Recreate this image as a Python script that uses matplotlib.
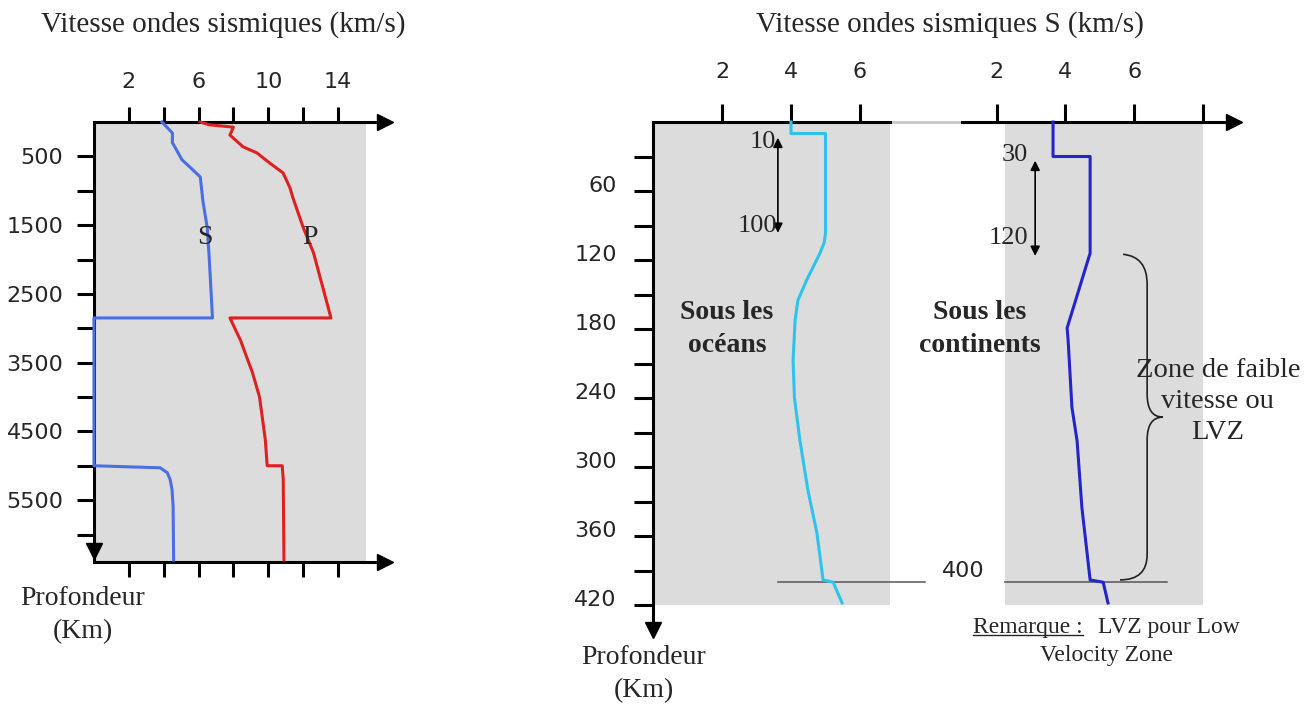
import matplotlib
matplotlib.use('Agg')
import matplotlib.pyplot as plt
import matplotlib.transforms as mtransforms
from matplotlib.patches import Rectangle, PathPatch
from matplotlib.path import Path
from matplotlib.lines import Line2D

# ---------------- data ----------------
# Left panel: whole Earth
earth_s_depth = [0, 160, 300, 550, 655, 800, 1150, 1540, 1920, 2850, 2850, 5000, 5030, 5100, 5200, 5350, 5590, 6371]
earth_s_vel   = [3.9, 4.5, 4.5, 5.05, 5.5, 6.1, 6.25, 6.5, 6.6, 6.8, 0.0, 0.0, 3.8, 4.2, 4.37, 4.48, 4.54, 4.57]
earth_p_depth = [0, 40, 75, 190, 360, 450, 600, 740, 960, 1090, 1530, 1905, 2850, 2850, 3170, 3650, 4000, 4620, 5000, 5000, 5200, 6371]
earth_p_vel   = [6.1, 6.6, 8.0, 7.8, 8.55, 9.35, 10.1, 10.85, 11.25, 11.4, 12.0, 12.6, 13.6, 7.8, 8.4, 9.1, 9.5, 9.83, 9.94, 10.8, 10.86, 10.9]
earth_xticks  = [2, 4, 6, 8, 10, 12, 14]
earth_xlabels = ['2', '', '6', '', '10', '', '14']
earth_yticks  = [500, 1000, 1500, 2000, 2500, 3000, 3500, 4000, 4500, 5000, 5500, 6000]
earth_ylabels = ['500', '', '1500', '', '2500', '', '3500', '', '4500', '', '5500', '']

# Right panel: upper mantle S-wave velocity
ocean_depth = [0, 10, 10, 97, 105, 114, 137, 155, 172, 207, 240, 277, 320, 357, 398, 400, 418]
ocean_vs    = [4.0, 4.0, 5.0, 5.0, 4.96, 4.84, 4.46, 4.2, 4.12, 4.06, 4.1, 4.26, 4.49, 4.75, 4.93, 5.22, 5.48]
cont_depth  = [0, 30, 30, 114, 179, 190, 248, 277, 335, 398, 400, 418]
cont_vs     = [3.64, 3.64, 4.72, 4.72, 4.05, 4.08, 4.19, 4.34, 4.48, 4.72, 5.1, 5.24]
upper_xticks_ocean  = [2, 4, 6]
upper_xlabels_ocean = ['2', '4', '6']
upper_xticks_cont   = [2, 4, 6, 8]
upper_xlabels_cont  = ['2', '4', '6', '']
upper_yticks  = list(range(30, 421, 30))
upper_ylabels = [str(v) if v % 60 == 0 else '' for v in upper_yticks]
ocean_lith = (10, 100)
cont_lith  = (30, 120)
lvz = (115, 398)
disc_400 = 400

# ---------------- styling ----------------
W, H = 1315, 707
fig = plt.figure(figsize=(W / 100, H / 100), dpi=100)
GRAY = '#DCDCDC'
TXT = '#262626'
SERIF = ['Liberation Serif', 'DejaVu Serif']
SANS = ['DejaVu Sans']
BLUE, RED, CYAN, DBLUE = '#4a6fe3', '#e02020', '#2ec3ee', '#2424c8'
LW = 2.2


def rect(x0, y0, x1, y1):
    return [x0 / W, 1 - y1 / H, (x1 - x0) / W, (y1 - y0) / H]


def fpos(px, py):
    return px / W, 1 - py / H


def style_axes(ax, spines, xt, xl, yt=None, yl=None, xlen=11, xpad=14, ylen=12, ypad=10, bottom=False):
    ax.set_facecolor('none')
    for name, sp in ax.spines.items():
        sp.set_visible(name in spines)
        sp.set_linewidth(LW)
        sp.set_color('k')
    ax.set_xticks(xt)
    ax.set_xticklabels(xl, family=SANS, fontsize=16, color=TXT)
    ax.tick_params(axis='x', top=True, bottom=bottom, labeltop=True, labelbottom=False,
                   direction='out', length=xlen, width=LW, pad=xpad)
    if yt is not None:
        ax.set_yticks(yt)
        ax.set_yticklabels(yl, family=SANS, fontsize=16, color=TXT)
        ax.tick_params(axis='y', left=True, right=False, direction='out',
                       length=ylen, width=LW, pad=ypad)
    else:
        ax.set_yticks([])


# ---------------- left panel ----------------
axL = fig.add_axes(rect(94, 122, 385, 562))
axL.set_xlim(0, 16.7)
axL.set_ylim(6400, 0)
axL.add_patch(Rectangle((0, 0), 15.6, 6400, fc=GRAY, ec='none', zorder=0))
style_axes(axL, ['top', 'bottom', 'left'], earth_xticks, earth_xlabels,
           earth_yticks, earth_ylabels, xlen=11, xpad=10.5, ylen=12, ypad=10, bottom=True)
axL.plot(earth_s_vel, earth_s_depth, color=BLUE, lw=LW, clip_on=False, zorder=3)
axL.plot(earth_p_vel, earth_p_depth, color=RED, lw=LW, clip_on=False, zorder=3)
axL.plot([1], [1], marker='>', ms=11, color='k', transform=axL.transAxes, clip_on=False)
axL.plot([1], [0], marker='>', ms=11, color='k', transform=axL.transAxes, clip_on=False)
axL.plot([0], [0.025], marker='v', ms=11, color='k', transform=axL.transAxes, clip_on=False)
axL.text(6.37, 1680, 'S', family=SERIF, fontsize=20, color=TXT, ha='center', va='center')
axL.text(12.39, 1680, 'P', family=SERIF, fontsize=20, color=TXT, ha='center', va='center')

# ---------------- right panel: oceans ----------------
axO = fig.add_axes(rect(653, 122, 890, 634))
axO.set_xlim(0, 237 / 34.5)
axO.set_ylim(445, 0)
axO.add_patch(Rectangle((0, 0), 237 / 34.5, 420, fc=GRAY, ec='none', zorder=0))
style_axes(axO, ['top', 'left'], upper_xticks_ocean, upper_xlabels_ocean,
           upper_yticks, upper_ylabels, xlen=13, xpad=16, ylen=14, ypad=12)
off = mtransforms.ScaledTranslation(0, 7 / 100, fig.dpi_scale_trans)
for lab in axO.get_yticklabels():
    lab.set_transform(lab.get_transform() + off)
axO.plot(ocean_vs, ocean_depth, color=CYAN, lw=LW, zorder=3, clip_on=False)
axO.plot([0], [0.008], marker='v', ms=11, color='k', transform=axO.transAxes, clip_on=False)
# light link between the two top axes
axO.plot([237 / 34.5, 309 / 34.5], [0, 0], color='#c8c8c8', lw=2, clip_on=False, zorder=1)
# 400 km discontinuity
axO.plot([3.62, 7.88], [disc_400, disc_400], color='#555555', lw=1.1, clip_on=False, zorder=2)
axO.annotate('', xy=(3.62, ocean_lith[0]), xytext=(3.62, ocean_lith[1]),
             arrowprops=dict(arrowstyle='<|-|>', color='k', lw=1.2, mutation_scale=14,
                             shrinkA=3, shrinkB=3))
axO.text(3.57, 17, str(ocean_lith[0]), family=SERIF, fontsize=19, color=TXT, ha='right', va='center')
axO.text(3.6, 90, str(ocean_lith[1]), family=SERIF, fontsize=19, color=TXT, ha='right', va='center')
axO.text(2.14, 180, 'Sous les\nocéans', family=SERIF, fontsize=20, weight='bold',
         color=TXT, ha='center', va='center', multialignment='center', linespacing=1.45)

# ---------------- right panel: continents ----------------
axC = fig.add_axes(rect(962.35, 122, 1233.7, 634))
axC.set_xlim(1.0, 8.9)
axC.set_ylim(445, 0)
axC.add_patch(Rectangle((2.25, 0), 8.0 - 2.25, 420, fc=GRAY, ec='none', zorder=0))
style_axes(axC, ['top'], upper_xticks_cont, upper_xlabels_cont, xlen=13, xpad=16)
axC.plot(cont_vs, cont_depth, color=DBLUE, lw=LW, zorder=3, clip_on=False)
axC.plot([1], [1], marker='>', ms=11, color='k', transform=axC.transAxes, clip_on=False)
axC.plot([2.24, 6.96], [disc_400, disc_400], color='#555555', lw=1.1, clip_on=False, zorder=2)
axC.text(1.02, 390, str(disc_400), family=SANS, fontsize=16, color=TXT, ha='center', va='center')
axC.annotate('', xy=(3.12, cont_lith[0]), xytext=(3.12, cont_lith[1]),
             arrowprops=dict(arrowstyle='<|-|>', color='k', lw=1.2, mutation_scale=14,
                             shrinkA=3, shrinkB=3))
axC.text(2.91, 29, str(cont_lith[0]), family=SERIF, fontsize=19, color=TXT, ha='right', va='center')
axC.text(2.91, 101, str(cont_lith[1]), family=SERIF, fontsize=19, color=TXT, ha='right', va='center')
axC.text(1.51, 180, 'Sous les\ncontinents', family=SERIF, fontsize=20, weight='bold',
         color=TXT, ha='center', va='center', multialignment='center', linespacing=1.45)

# curly brace for the low velocity zone
top, bot = lvz
mid = (top + bot) / 2
xs, xb, xt = 5.68, 6.38, 6.84
verts = [(xs, top), (xb, top + 2), (xb, top + 26),
         (xb, mid - 20),
         (xb, mid), (xt, mid),
         (xb, mid), (xb, mid + 20),
         (xb, bot - 22),
         (xb, bot), (xs - 0.09, bot)]
codes = [Path.MOVETO, Path.CURVE3, Path.CURVE3,
         Path.LINETO,
         Path.CURVE3, Path.CURVE3,
         Path.CURVE3, Path.CURVE3,
         Path.LINETO,
         Path.CURVE3, Path.CURVE3]
axC.add_patch(PathPatch(Path(verts, codes), fc='none', ec='#222222', lw=1.2, clip_on=False, zorder=4))
axC.text(8.44, 243, 'Zone de faible\nvitesse ou\nLVZ', family=SERIF, fontsize=20.5, color=TXT,
         ha='center', va='center', multialignment='center', linespacing=1.33, clip_on=False)

# ---------------- titles and labels ----------------
fig.text(*fpos(223, 25), 'Vitesse ondes sismiques (km/s)', family=SERIF, fontsize=21,
         color=TXT, ha='center', va='center')
fig.text(*fpos(950, 25), 'Vitesse ondes sismiques S (km/s)', family=SERIF, fontsize=21,
         color=TXT, ha='center', va='center')
fig.text(*fpos(83, 615), 'Profondeur\n(Km)', family=SERIF, fontsize=20, color=TXT,
         ha='center', va='center', multialignment='center', linespacing=1.4)
fig.text(*fpos(644, 674), 'Profondeur\n(Km)', family=SERIF, fontsize=20, color=TXT,
         ha='center', va='center', multialignment='center', linespacing=1.4)

t_rem = fig.text(*fpos(973, 627), 'Remarque :', family=SERIF, fontsize=17, color=TXT,
                 ha='left', va='center')
fig.text(*fpos(1240, 627), 'LVZ pour Low', family=SERIF, fontsize=17, color=TXT,
         ha='right', va='center')
fig.text(*fpos(1106, 656), 'Velocity Zone', family=SERIF, fontsize=17, color=TXT,
         ha='center', va='center')

fig.canvas.draw()
bb = t_rem.get_window_extent().transformed(fig.transFigure.inverted())
fig.add_artist(Line2D([bb.x0, bb.x1], [bb.y0 + 0.003, bb.y0 + 0.003], color=TXT, lw=1.0,
                      transform=fig.transFigure))

fig.savefig('out.png', dpi=100, facecolor='white')
